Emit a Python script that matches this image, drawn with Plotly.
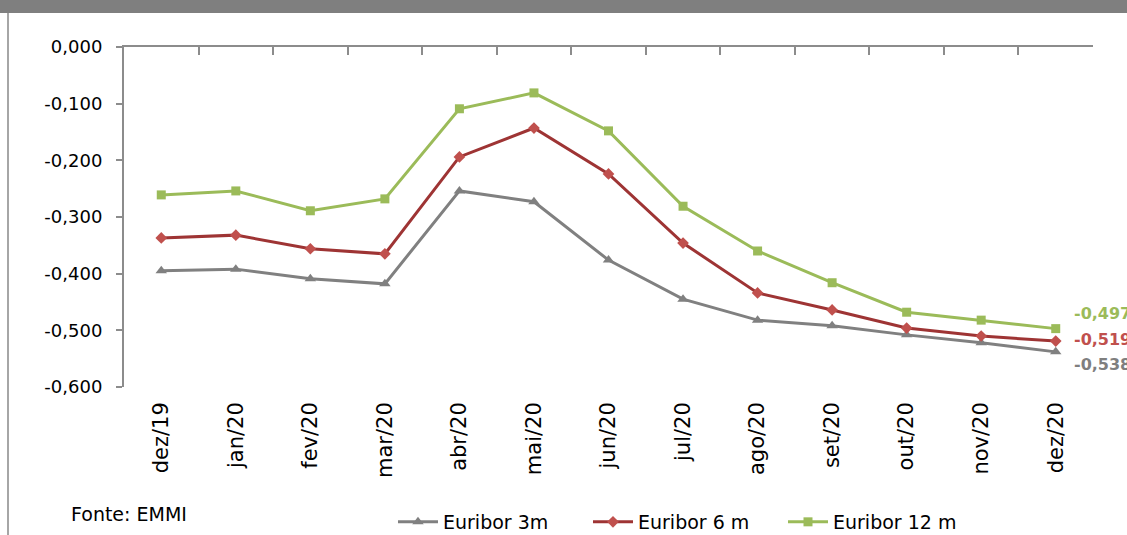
import plotly.graph_objects as go

# Monthly Euribor rates (%), Dec 2019 - Dec 2020
months = ["dez/19", "jan/20", "fev/20", "mar/20", "abr/20", "mai/20", "jun/20",
          "jul/20", "ago/20", "set/20", "out/20", "nov/20", "dez/20"]
euribor_3m = [-0.395, -0.392, -0.409, -0.418, -0.254, -0.273, -0.376,
              -0.445, -0.482, -0.492, -0.508, -0.522, -0.538]
euribor_6m = [-0.337, -0.332, -0.356, -0.365, -0.194, -0.143, -0.224,
              -0.346, -0.434, -0.464, -0.496, -0.510, -0.519]
euribor_12m = [-0.261, -0.254, -0.289, -0.268, -0.109, -0.081, -0.148,
               -0.281, -0.360, -0.416, -0.468, -0.482, -0.497]

y_ticks = [0.0, -0.1, -0.2, -0.3, -0.4, -0.5, -0.6]
y_ticktext = [f"{v:.3f}".replace(".", ",") for v in y_ticks]

FONT = "DejaVu Sans"
AXIS_GREY = "#8c8c8c"

x = list(range(len(months)))

# name, values, line colour, marker colour, symbol, size, label colour, label offset
series = [
    ("Euribor 3m", euribor_3m, "#808080", "#808080", "triangle-up", 10, "#7f7f7f", -13),
    ("Euribor 6 m", euribor_6m, "#9e3434", "#c0504d", "diamond", 9, "#c0504d", 2),
    ("Euribor 12 m", euribor_12m, "#9bbb59", "#9bbb59", "square", 9, "#9bbb59", 15),
]

fig = go.Figure()
for name, vals, lcol, mcol, sym, msize, _, _ in series:
    fig.add_trace(go.Scatter(
        x=x, y=vals, name=name, mode="lines+markers",
        line=dict(color=lcol, width=3),
        marker=dict(symbol=sym, size=msize, color=mcol),
    ))

# invisible trace on the top axis so its category ticks are drawn
fig.add_trace(go.Scatter(x=[x[0]], y=[0], xaxis="x2", showlegend=False,
                         mode="markers", marker=dict(opacity=0),
                         hoverinfo="skip"))

# value labels at the last month
for name, vals, _, _, _, _, lab_col, dy in series:
    fig.add_annotation(
        x=x[-1], y=vals[-1], xref="x", yref="y",
        text=f"{vals[-1]:.3f}".replace(".", ","),
        showarrow=False, xanchor="left", yanchor="middle",
        xshift=16, yshift=dy,
        font=dict(family=FONT, size=16, color=lab_col, weight="bold"),
    )

fig.add_annotation(
    x=-0.0568, y=-0.374, xref="paper", yref="paper",
    text="Fonte: EMMI", showarrow=False, xanchor="left", yanchor="middle",
    font=dict(family=FONT, size=19, color="#000000"),
)

# header band and left frame edge
fig.add_shape(type="rect", xref="paper", yref="paper",
              x0=-0.2, x1=1.1, y0=1.1, y1=1.2,
              fillcolor="#7f7f7f", line=dict(width=0), layer="below")
fig.add_shape(type="line", xref="paper", yref="paper",
              x0=-0.1197, x1=-0.1197, y0=1.1, y1=-0.5,
              line=dict(color="#a6a6a6", width=2))

fig.update_layout(
    width=1127, height=535,
    margin=dict(l=124, r=34, t=47, b=148, autoexpand=False),
    paper_bgcolor="white", plot_bgcolor="white",
    font=dict(family=FONT, color="#000000"),
    showlegend=True,
    legend=dict(orientation="h", x=0.2776, y=-0.397, xanchor="left",
                yanchor="middle", font=dict(family=FONT, size=19),
                bgcolor="rgba(0,0,0,0)", itemwidth=40, entrywidth=140),
    xaxis=dict(
        range=[-0.5, len(months) - 0.5],
        tickvals=x, ticktext=months, tickangle=-90,
        showline=False, showgrid=False, zeroline=False, ticks="",
        tickfont=dict(family=FONT, size=21), ticklabelstandoff=10,
    ),
    xaxis2=dict(
        overlaying="x", anchor="y", side="top",
        range=[-0.5, len(months) - 0.5],
        tickvals=[i - 0.5 for i in range(len(months) + 1)],
        showticklabels=False, ticks="inside", ticklen=8,
        tickcolor=AXIS_GREY, tickwidth=2,
        showline=True, linecolor=AXIS_GREY, linewidth=2,
        showgrid=False, zeroline=False,
    ),
    yaxis=dict(
        range=[-0.6, 0.0], tickvals=y_ticks, ticktext=y_ticktext,
        showline=True, linecolor=AXIS_GREY, linewidth=2,
        ticks="outside", ticklen=6, tickcolor=AXIS_GREY, tickwidth=2,
        showgrid=False, zeroline=False,
        tickfont=dict(family=FONT, size=18), ticklabelstandoff=10,
    ),
)

fig.write_html("out.html")
